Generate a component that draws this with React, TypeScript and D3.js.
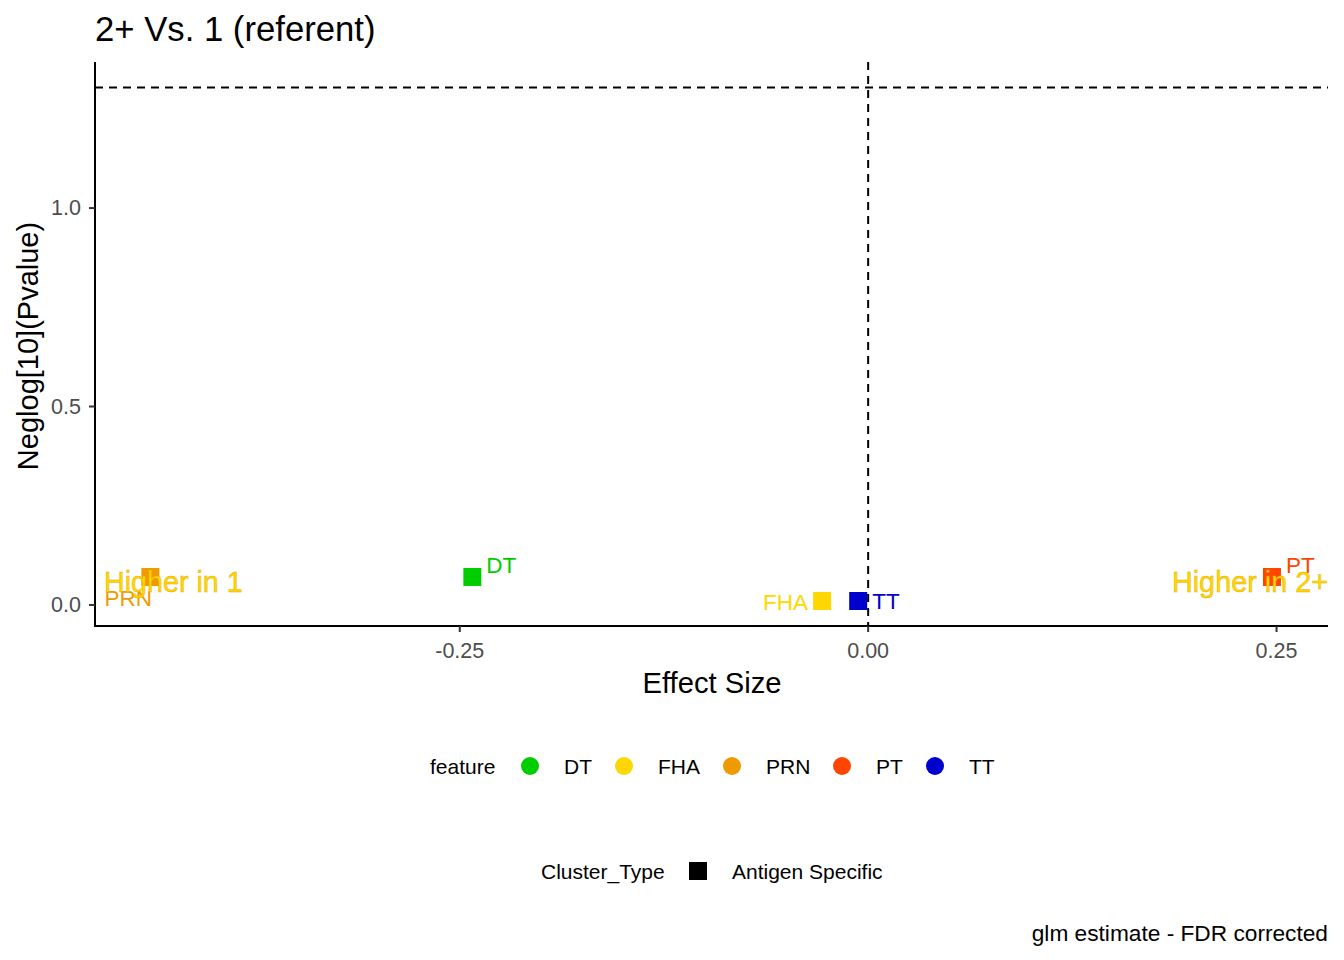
import * as d3 from "d3";

// data
const features = ["DT", "FHA", "PRN", "PT", "TT"];
const featureColors = ["#00CD00", "#FFD700", "#EE9A00", "#FF4500", "#0000CD"];
const effectSize = [-0.2423, -0.0282, -0.4394, 0.2472, -0.0061];
const negLogP = [0.0705, 0.01, 0.0705, 0.0705, 0.01];
const xTicks = [-0.25, 0, 0.25];
const yTicks = [0, 0.5, 1.0];
const pCutoff = 0.05;

// label nudges (px) as ggrepel placed them
const labelNudge = {
  DT: { dx: 14, dy: -11, anchor: "start" },
  FHA: { dx: -14, dy: 2, anchor: "end" },
  PRN: { dx: -46, dy: 22, anchor: "start" },
  PT: { dx: 14, dy: -11, anchor: "start" },
  TT: { dx: 14, dy: 1, anchor: "start" },
};

const W = 1344;
const H = 960;
const m = { left: 95, right: 1328, top: 62, bottom: 626 };
const font = "'Liberation Sans', Arial, sans-serif";

export default function App() {
  const x = d3.scaleLinear().domain([-0.4733, 0.2815]).range([m.left, m.right]);
  const y = d3.scaleLinear().domain([-0.053, 1.368]).range([m.bottom, m.top]);
  const color = d3.scaleOrdinal<string, string>().domain(features).range(featureColors);
  const fmtX = (v: number) => d3.format(".2f")(v).replace("\u2212", "-");
  const fmtY = d3.format(".1f");
  const sq = 18;
  const dash = "8,6";

  const legendX = [530, 624, 732, 842, 935];

  return (
    <div style={{ position: "absolute", left: 0, top: 0 }}>
      <svg width={W} height={H} style={{ display: "block", fontFamily: font }}>
        <rect width={W} height={H} fill="white" />
        <text x={95} y={41} fontSize={34.7} fill="black">2+ Vs. 1 (referent)</text>

        {/* reference lines */}
        <line x1={m.left} x2={m.right} y1={y(-Math.log10(pCutoff)) - 1} y2={y(-Math.log10(pCutoff)) - 1}
          stroke="black" strokeWidth={2} strokeDasharray={dash} />
        <line x1={x(0)} x2={x(0)} y1={m.top} y2={m.bottom} stroke="black" strokeWidth={2} strokeDasharray={dash} />

        {/* points */}
        {features.map((f, i) => (
          <rect key={f} x={x(effectSize[i]) - sq / 2} y={y(negLogP[i]) - sq / 2} width={sq} height={sq}
            fill={color(f)} />
        ))}
        {features.map((f, i) => (
          <text key={f} x={x(effectSize[i]) + labelNudge[f].dx} y={y(negLogP[i]) + labelNudge[f].dy}
            dominantBaseline="central" textAnchor={labelNudge[f].anchor} fontSize={22.5} fill={color(f)}>
            {f}
          </text>
        ))}

        {/* annotations */}
        <text x={m.left + 9} y={y(0.058)} dominantBaseline="central" fontSize={28.7} fill="#FFD700"
          stroke="#E6A800" strokeWidth={0.4}>Higher in 1</text>
        <text x={m.right} y={y(0.058)} dominantBaseline="central" textAnchor="end" fontSize={28.8} fill="#FFD700"
          stroke="#E6A800" strokeWidth={0.4}>Higher in 2+</text>

        {/* axes */}
        <line x1={m.left} x2={m.left} y1={m.top} y2={m.bottom + 1} stroke="black" strokeWidth={2} />
        <line x1={m.left - 1} x2={m.right} y1={m.bottom} y2={m.bottom} stroke="black" strokeWidth={2} />
        {xTicks.map((t) => (
          <g key={t}>
            <line x1={x(t)} x2={x(t)} y1={m.bottom} y2={m.bottom + 6} stroke="#333" strokeWidth={2} />
            <text x={x(t)} y={m.bottom + 25} textAnchor="middle" dominantBaseline="central" fontSize={21.5} fill="#4D4D4D">
              {fmtX(t)}
            </text>
          </g>
        ))}
        {yTicks.map((t) => (
          <g key={t}>
            <line x1={m.left - 6} x2={m.left} y1={y(t)} y2={y(t)} stroke="#333" strokeWidth={2} />
            <text x={m.left - 14} y={y(t)} textAnchor="end" dominantBaseline="central" fontSize={21.5} fill="#4D4D4D">
              {fmtY(t)}
            </text>
          </g>
        ))}
        <text x={712} y={683} textAnchor="middle" dominantBaseline="central" fontSize={29.2} fill="black">Effect Size</text>
        <text transform={`translate(28,346) rotate(-90)`} textAnchor="middle" dominantBaseline="central" fontSize={29}
          fill="black">Neglog[10](Pvalue)</text>

        {/* feature legend */}
        <text x={430} y={766} dominantBaseline="central" fontSize={21} fill="black">feature</text>
        {features.map((f, i) => (
          <g key={f}>
            <circle cx={legendX[i]} cy={766} r={9} fill={color(f)} />
            <text x={legendX[i] + 34} y={766} dominantBaseline="central" fontSize={21} fill="black">{f}</text>
          </g>
        ))}

        {/* cluster type legend */}
        <text x={541} y={871} dominantBaseline="central" fontSize={21} fill="black">Cluster_Type</text>
        <rect x={698 - sq / 2} y={871 - sq / 2} width={sq} height={sq} fill="black" />
        <text x={732} y={871} dominantBaseline="central" fontSize={21} fill="black">Antigen Specific</text>

        <text x={1328} y={933} textAnchor="end" dominantBaseline="central" fontSize={22.7} fill="black">
          glm estimate - FDR corrected
        </text>
      </svg>
    </div>
  );
}
